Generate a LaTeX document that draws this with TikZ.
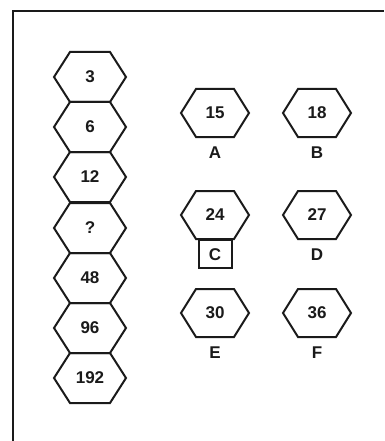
\documentclass[tikz,border=0pt]{standalone}
\usepackage{fontspec}
\setmainfont{Liberation Sans}
\usepackage{tikz}
\usetikzlibrary{positioning}
\definecolor{Ink}{HTML}{1A1A1A}
\tikzset{
  hexline/.style={draw=Ink, line width=2pt, line join=miter},
  numtext/.style={font=\fontsize{17}{19}\selectfont\bfseries, text=Ink, inner sep=0pt},
  lettext/.style={font=\fontsize{17}{19}\selectfont\bfseries, text=Ink, inner sep=0pt},
  letbox/.style={draw=Ink, line width=2pt, minimum width=33pt, minimum height=28pt, inner sep=0pt}
}
% #1 half width, #2 half flat top, #3 half height, #4 name, #5 centre, #6 text
\newcommand{\HexCell}[6]{%
\draw[hexline, shift={#5}] (-#1,0) -- (-#2,#3) -- (#2,#3) -- (#1,0)
  -- (#2,-#3) -- (-#2,-#3) -- cycle;
\node[numtext, minimum height={2*#3}] (#4) at #5 {#6};
}

\begin{document}
\begin{tikzpicture}[x=1pt, y=-1pt]
\useasboundingbox (0,0) rectangle (384,441);

% Frame (only top and left edges show)
\draw[Ink, line width=2.2pt] (13,441) -- (13,11) -- (384,11);

% Stacked column
\foreach \val/\y [count=\i] in {3/77, 6/127, 12/177, ?/228, 48/278, 96/328, 192/378} {
  \HexCell{36}{20}{25}{s\i}{(90,\y)}{\val}
}

% Choices
\HexCell{34}{19}{24}{hA}{(215,113)}{15}
\HexCell{34}{19}{24}{hB}{(317,113)}{18}
\HexCell{34}{19}{24}{hC}{(215,215)}{24}
\HexCell{34}{19}{24}{hD}{(317,215)}{27}
\HexCell{34}{19}{24}{hE}{(215,313)}{30}
\HexCell{34}{19}{24}{hF}{(317,313)}{36}

\node[lettext, below=9pt of hA] (lA) {A};
\node[lettext, below=9pt of hB] (lB) {B};
\node[letbox, anchor=north] (bC) at (hC.south) {};
\node[lettext] (lC) at (bC.center) {C};
\node[lettext, below=9pt of hD] (lD) {D};
\node[lettext, below=9pt of hE] (lE) {E};
\node[lettext, below=9pt of hF] (lF) {F};

\end{tikzpicture}
\end{document}
